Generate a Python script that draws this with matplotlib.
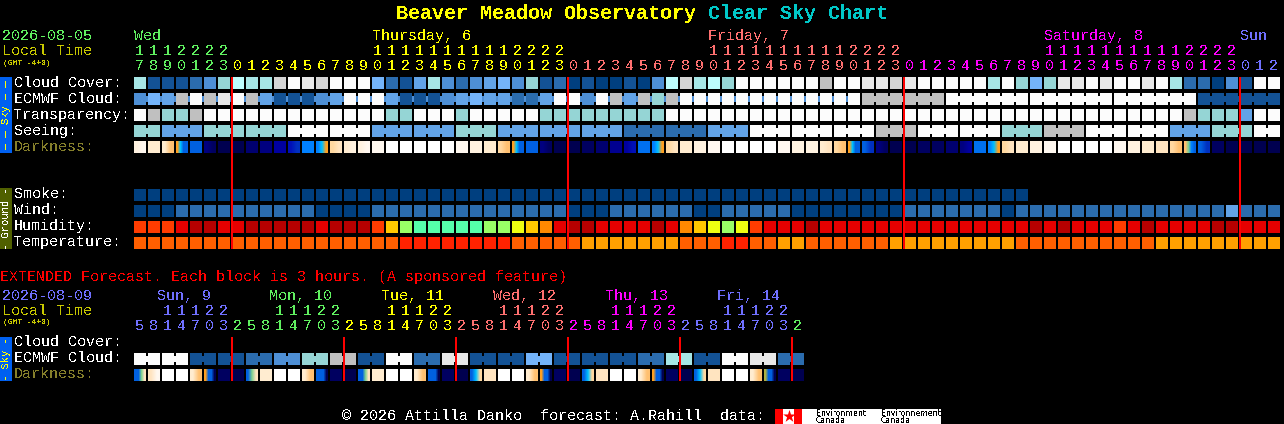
#! /usr/bin/env python3
import numpy as np
import matplotlib
matplotlib.use("Agg")
import matplotlib.pyplot as plt
from matplotlib.colors import to_rgb

# one character = one cell
PALETTE = {
    '0': '#003F7F', '1': '#135295', '2': '#2B6CAE', '3': '#4E8FD5', '4': '#62A3E7',
    '5': '#74B4FA', '6': '#95D5D5', '7': '#A6E6E6', '8': '#BDFDFD',
    'g': '#C0C0C0', 'h': '#D4D4D4', 'i': '#E8E8E8', 'w': '#FCFCFC',
    # humidity
    'O': '#FF3C00', 'R': '#E60000', 'D': '#B70000', 'T': '#55FFAA', 'L': '#99FF66',
    'Y': '#EEFF11', 'A': '#FFC800', 'N': '#FF8800',
    # temperature
    'M': '#FF5F00', 'F': '#FF2200', 'B': '#FFA000',
}
DARK = {
    'a': '#000050', 'b': '#000060', 'c': '#000070', 'd': '#000080', 'e': '#000090',
    'f': '#0000A0', 'g': '#0010B8', 'h': '#0030C0', 'i': '#0060E0', 'j': '#0070F0',
    'k': '#0080FF', 'l': '#00A0FF', 'm': '#00C0FF', 'n': '#FFA020', 'o': '#FFC070',
    'p': '#FFD8A0', 'q': '#FFE4C0', 'r': '#FFECD0', 's': '#FFF2E0', 't': '#FFF8F0',
    'u': '#FFFFFF', 'v': '#80D090', 'x': '#B0B040',
}

cloud_cover = ("7111236877hwihwww" "52147323453612" "01001038h786"
               "wwwwwwgww" "iihiwwwww" "7w656iiwiwwiw722031ww")
ecmwf_cloud = ("3 5 4 g w g i w g 4 1 1 1 3 4 w w w 4 1 1"
               " 1 3 4 5 4 4 2 2 4 w w 3 w g 4 g 6 g"
               " w w w w w w w w w w w w w"
               " g g g g g g"
               " w w w w w w w w w w w w w w w w w w"
               " 1 1 1 1 1 1").split()
transparency = ("wg66g" "wwwwwwwwwwwww" "66" "www" "6" "wwwww" "666666666"
                "wwwwwwwwwwwwwwwwwwwwwwwwwwwwwwwwwwwww" "g" "666" "4" "ww")
seeing_blocks = [2] + [3] * 26 + [2]
seeing_codes = "6466ww446444224wwwgww6gww46w"
smoke = "0" * 64
wind = ("000" "2222222222" "0000" "22222222222222" "000" "222222" "00" "22222"
        "00000000" "2222222" "0" "222222222222222" "4" "222")
humidity = ("OOORDDRRDDDDDRDDDOALT" "TTTTLLYANRDDRRRRDR" "NAYLYORRRDRRR"
            "RRRRRRRRRRRR" "DRDRRRORDRRRRDDRRR")
temperature = ("M" * 19 + "F" * 8 + "M" * 5 + "B" * 7 + "MMM" + "FF" + "MM" + "BB"
               + "M" * 6 + "B" * 9 + "M" * 10 + "B" * 9)
darkness = ("st r ro nmii i db a a c d f gh k kmn pq rs st t u u u"
            " u u t s r po nmii i db a a b c e fg j kmn pq r s t"
            " u u u u t s s rq po nmii ih db a a b b c df j kmn pq r s t"
            " u u u u t s r q po ovki ih b a a a a").split()

ext_ecmwf = "w w 1 1 2 3 6 g 1 w 2 i 1 1 5 1 1 1 2 7 1 w i 2".split()
ext_darkness = ("iivq qt u u ro niia b a ivq r u u ro iiia b a iivq r u u ro iiia b a"
                " imp q u u ro niia b a imp q u u ro niia b a imp q u u ro xiia b a").split()

hour_start = 17
days_top = [("Wed", 0, '#60F060'), ("Thursday, 6", 17, '#FFFF00'), ("Friday, 7", 41, '#FF7070'),
            ("Saturday, 8", 65, '#FF00FF'), ("Sun", 79, '#7070FF')]
day_colors = ['#60F060', '#FFFF00', '#FF7070', '#FF00FF', '#7070FF']
ext_days = [("Sun, 9", '#7070FF'), ("Mon, 10", '#60F060'), ("Tue, 11", '#FFFF00'),
            ("Wed, 12", '#FF7070'), ("Thu, 13", '#FF00FF'), ("Fri, 14", '#7070FF')]
ext_day_colors = ['#7070FF', '#60F060', '#FFFF00', '#FF7070', '#FF00FF', '#7070FF', '#60F060']

X0, PITCH, CELL = 134, 14, 12
MONO = 'Liberation Mono'
FS = 15 * 0.72  # 15 px font, 9 px per char
SIDE_FS = 10.5 * 0.72


def cell_x(k):
    return X0 + PITCH * np.asarray(k)


def text(ax, x, y, s, color='white', size=FS, **kw):
    kw.setdefault('family', MONO)
    kw.setdefault('ha', 'left')
    kw.setdefault('va', 'baseline')
    t = ax.text(x, y, s, color=color, fontsize=size, **kw)
    t.set_antialiased(False)
    return t


def row(ax, y, codes):
    k = np.arange(len(codes))
    ax.bar(cell_x(k), CELL, width=CELL, bottom=y, align='edge', linewidth=0,
           color=[PALETTE[c] for c in codes], antialiased=False)


def links(ax, y, codes, blocks):
    # blocks of cells joined by a band in the middle of the row
    k = 0
    for n in blocks:
        if n > 1:
            xs = cell_x(np.arange(k, k + n - 1)) + CELL
            ax.bar(xs, 6, width=PITCH - CELL, bottom=y + 3, align='edge', linewidth=0,
                   color=PALETTE[codes[k]], antialiased=False)
        k += n


def dark_row(ax, y, cells):
    for k, stops in enumerate(cells):
        rgb = np.array([[to_rgb(DARK[c]) for c in stops]])
        x = cell_x(k)
        ax.imshow(rgb, extent=(x, x + CELL, y + CELL, y), aspect='auto',
                  interpolation='bilinear' if len(stops) > 1 else 'nearest')


fig = plt.figure(figsize=(12.84, 4.24), dpi=100, facecolor='black')
ax = fig.add_axes([0, 0, 1, 1], facecolor='black')
ax.axis('off')

# title
text(ax, 396, 19, "Beaver Meadow Observatory", '#FFFF00', 20 * 0.72, weight='bold')
text(ax, 708, 19, "Clear Sky Chart", '#00C8C8', 20 * 0.72, weight='bold')

# top header
text(ax, 2, 40, "2026-08-05", '#60F060')
text(ax, 2, 55, "Local Time", '#C8C800')
text(ax, 3, 65, "(GMT -4+0)", '#C8C800', 8 * 0.72)
for name, k, col in days_top:
    text(ax, cell_x(k), 40, name, col)
for k in range(len(cloud_cover)):
    hour = (hour_start + k) % 24
    col = day_colors[(hour_start + k) // 24]
    if hour >= 10:
        text(ax, cell_x(k) + 1, 55, str(hour // 10), col)
    text(ax, cell_x(k) + 1, 70, str(hour % 10), col)

# left labels
for y, s in [(87, "Cloud Cover:"), (103, "ECMWF Cloud:"), (119, "Transparency:"), (135, "Seeing:"),
             (198, "Smoke:"), (214, "Wind:"), (230, "Humidity:"), (246, "Temperature:"),
             (346, "Cloud Cover:"), (362, "ECMWF Cloud:")]:
    text(ax, 14, y, s)
text(ax, 14, 151, "Darkness:", '#857F2B')
text(ax, 14, 378, "Darkness:", '#857F2B')

# side bars
ax.bar(0, 76, width=12, bottom=77, align='edge', color='#0060F0', linewidth=0, antialiased=False)
ax.bar(0, 61, width=12, bottom=188, align='edge', color='#506000', linewidth=0, antialiased=False)
ax.bar(0, 44, width=12, bottom=337, align='edge', color='#0060F0', linewidth=0, antialiased=False)
text(ax, 6, 115, "\u2014 \u2014 Sky \u2014 \u2014", '#FFFF00', SIDE_FS, rotation=90, ha='center', va='center')
text(ax, 6, 219, "- Ground -", 'white', SIDE_FS, rotation=90, ha='center', va='center')
text(ax, 6, 359, "- Sky -", '#FFFF00', SIDE_FS, rotation=90, ha='center', va='center')

# sky rows
row(ax, 77, cloud_cover)
row(ax, 93, ecmwf_cloud)
links(ax, 93, ecmwf_cloud, [52, 6, 6, 6, 6, 6])
row(ax, 109, transparency)
seeing = []
for n, c in zip(seeing_blocks, seeing_codes):
    seeing += [c] * n
row(ax, 125, seeing)
links(ax, 125, seeing, seeing_blocks)
dark_row(ax, 141, darkness)

# ground rows
row(ax, 189, smoke)
row(ax, 205, wind)
row(ax, 221, humidity)
row(ax, 237, temperature)

# midnight markers
for k in range(7, len(cloud_cover), 24):
    ax.bar(cell_x(k) - 1, 172, width=2, bottom=77, align='edge', color='#FF0000',
           linewidth=0, antialiased=False, zorder=5)

# extended forecast
text(ax, 0, 281, "EXTENDED Forecast. Each block is 3 hours. (A sponsored feature)", '#FF0000')
text(ax, 2, 300, "2026-08-09", '#7070FF')
text(ax, 2, 315, "Local Time", '#C8C800')
text(ax, 3, 324, "(GMT -4+0)", '#C8C800', 8 * 0.72)
for i, (name, col) in enumerate(ext_days):
    text(ax, cell_x(1 + 8 * i) + 9, 300, name, col)
for k in range(48):
    hour = (5 + 3 * k) % 24
    col = ext_day_colors[(5 + 3 * k) // 24]
    if hour >= 10:
        text(ax, cell_x(k) + 1, 315, str(hour // 10), col)
    text(ax, cell_x(k) + 1, 330, str(hour % 10), col)

ext_cells = []
for c in ext_ecmwf:
    ext_cells += [c, c]
row(ax, 353, ext_cells)
links(ax, 353, ext_cells, [2] * len(ext_ecmwf))
dark_row(ax, 369, ext_darkness)
for k in range(7, 48, 8):
    ax.bar(cell_x(k) - 1, 44, width=2, bottom=337, align='edge', color='#FF0000',
           linewidth=0, antialiased=False, zorder=5)

# footer
text(ax, 342, 420, "\u00a9 2026 Attilla Danko  forecast: A.Rahill  data:")
ax.bar(775, 15, width=166, bottom=409, align='edge', color='white', linewidth=0, antialiased=False)
ax.bar([775, 794], 15, width=8, bottom=409, align='edge', color='#FF0000', linewidth=0, antialiased=False)
ax.scatter([788.5], [416], marker='*', s=90, color='#FF0000', linewidths=0)
for x, s in [(816, "Environment"), (881, "Environnement")]:
    text(ax, x, 416, s, 'black', 5.6, family='DejaVu Sans')
    text(ax, x, 423, "Canada", 'black', 5.6, family='DejaVu Sans')

ax.set_xlim(0, 1284)
ax.set_ylim(424, 0)
fig.savefig("out.png", dpi=100, facecolor='black')
